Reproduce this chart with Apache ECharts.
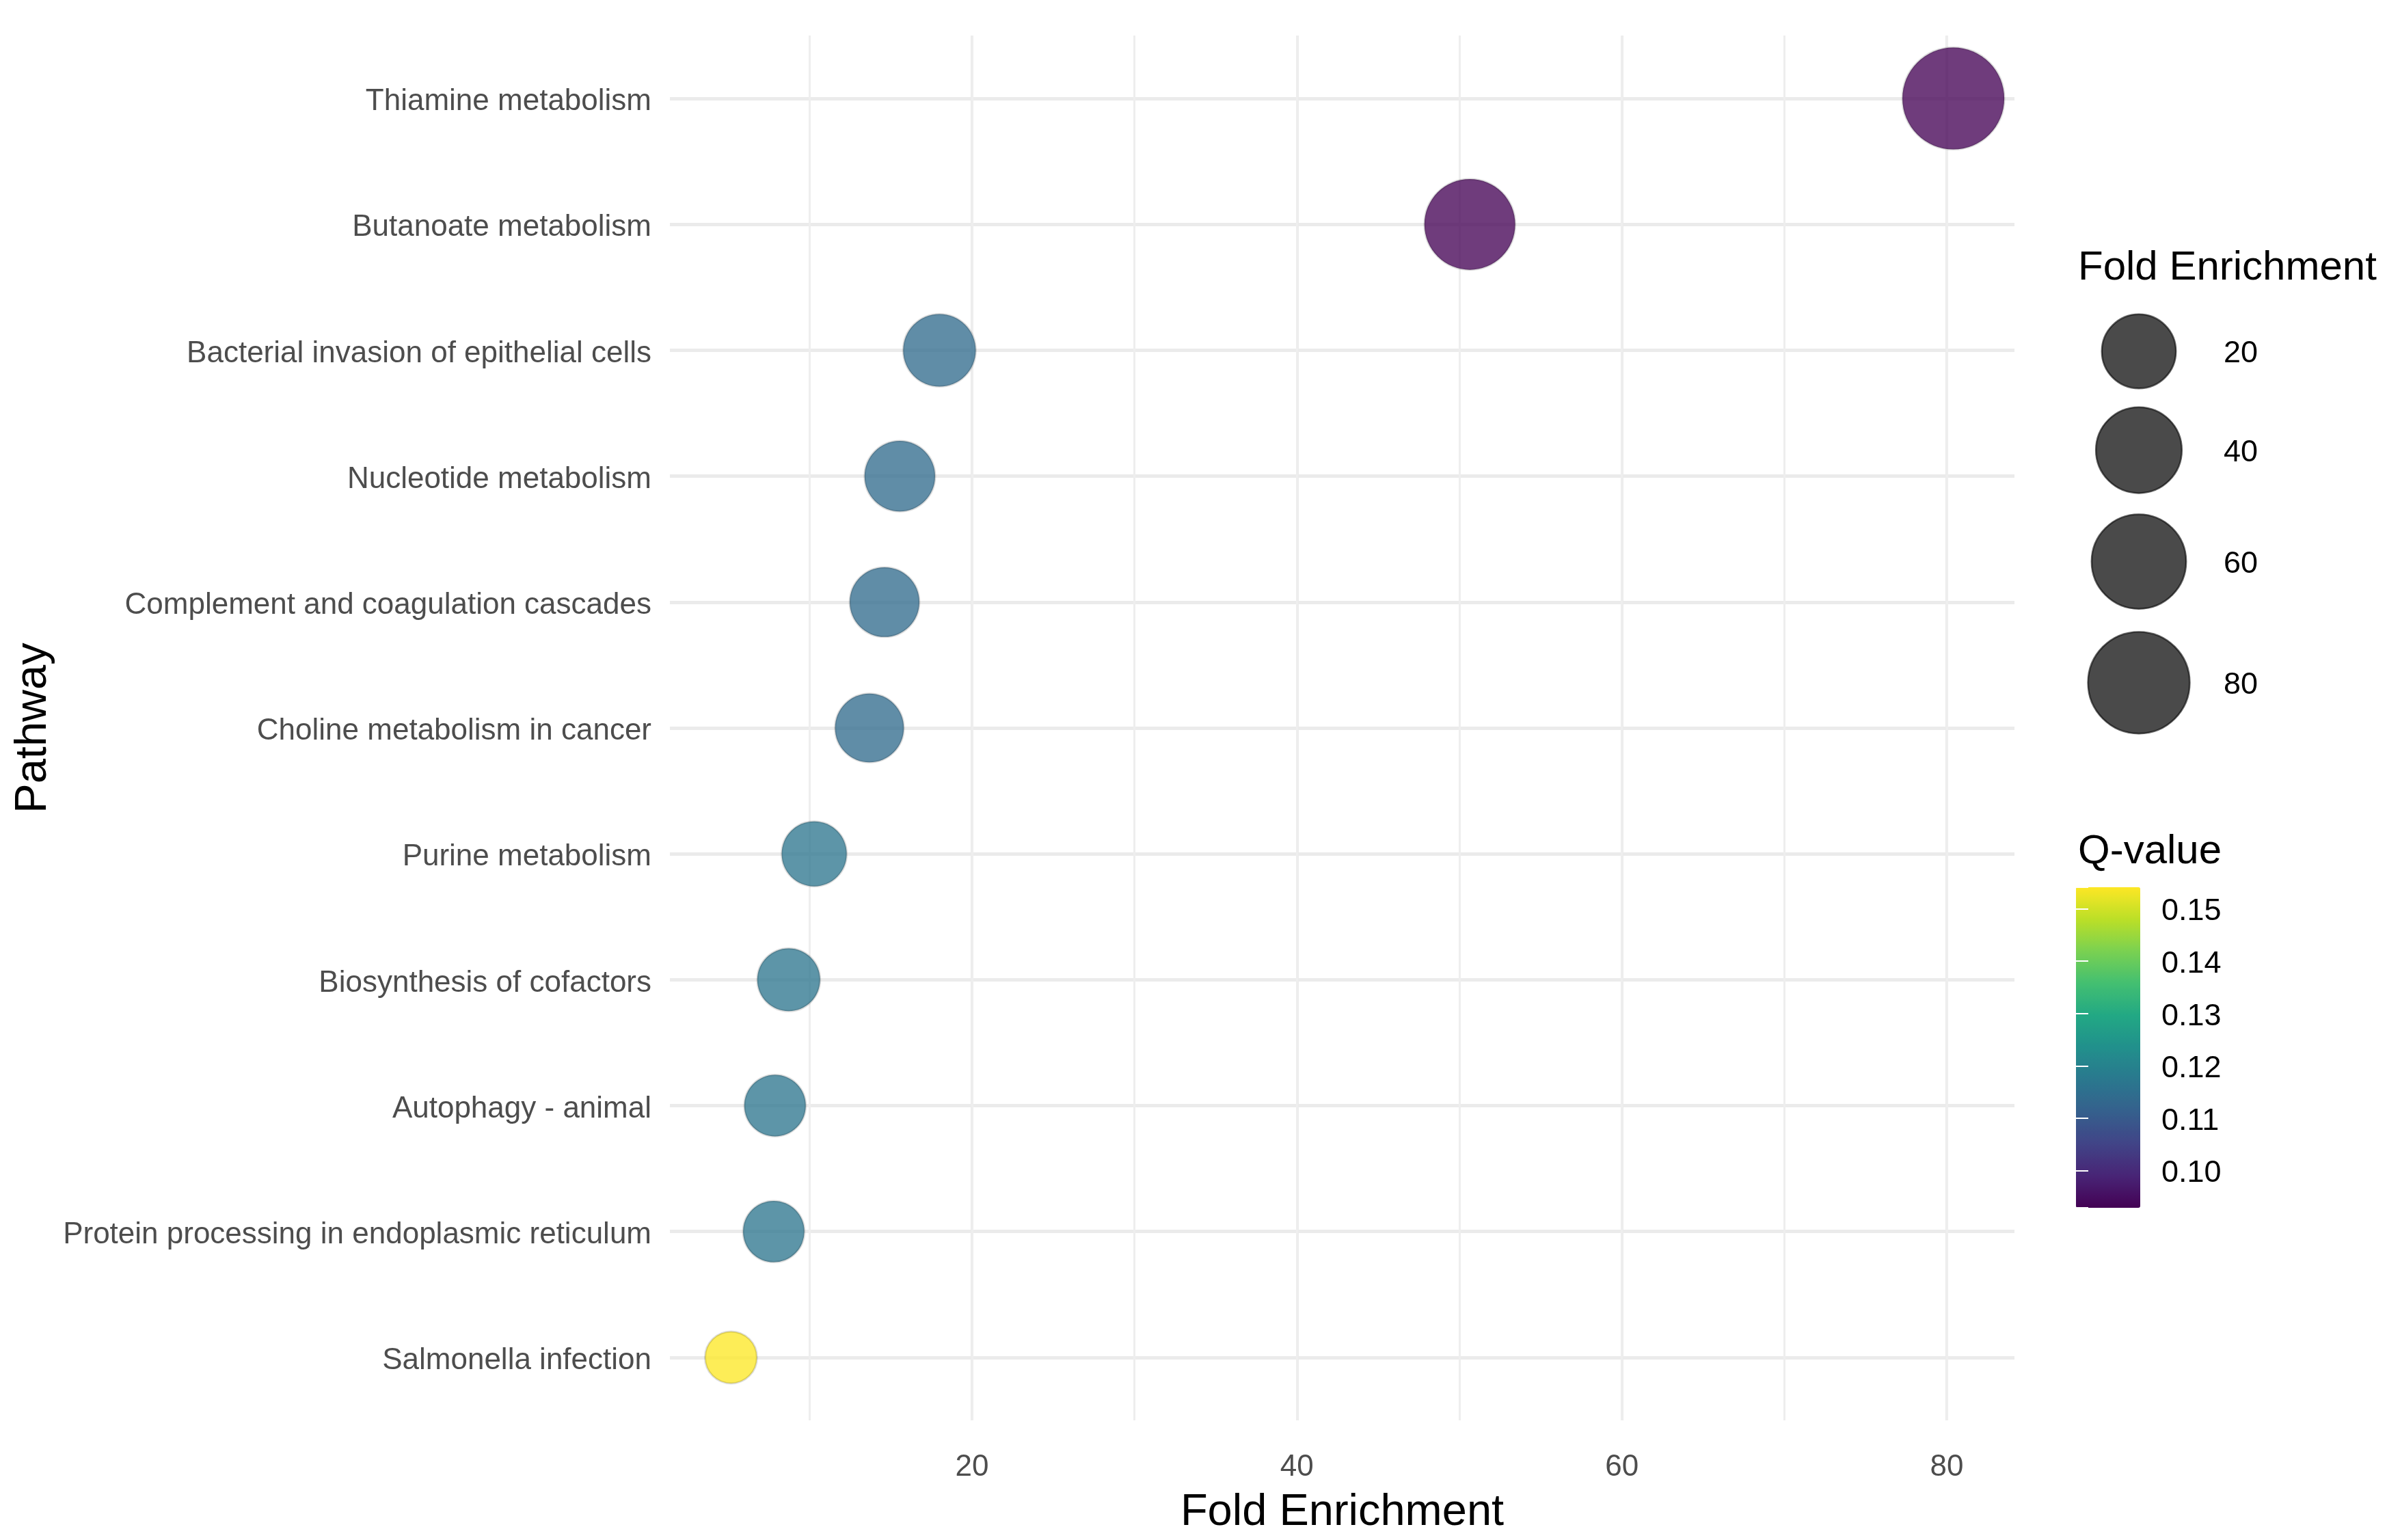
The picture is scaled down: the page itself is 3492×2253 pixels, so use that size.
<!DOCTYPE html>
<html><head><meta charset="utf-8">
<script src="https://cdn.jsdelivr.net/npm/echarts@6/dist/echarts.min.js"></script>
<style>html,body{margin:0;padding:0;background:#fff}#c{width:3492px;height:2253px}</style>
</head><body><div id="c"></div>
<script>
// ---- data ----
const pathways = ['Thiamine metabolism', 'Butanoate metabolism', 'Bacterial invasion of epithelial cells',
  'Nucleotide metabolism', 'Complement and coagulation cascades', 'Choline metabolism in cancer',
  'Purine metabolism', 'Biosynthesis of cofactors', 'Autophagy - animal',
  'Protein processing in endoplasmic reticulum', 'Salmonella infection'];
const foldEnrichment = [80.4, 50.64, 18.0, 15.56, 14.62, 13.69, 10.29, 8.72, 7.88, 7.80, 5.17];
const qValue = [0.0929, 0.0929, 0.1140, 0.1140, 0.1140, 0.1140, 0.1165, 0.1165, 0.1165, 0.1165, 0.1541];
const sizeBreaks = [20, 40, 60, 80];
const viridis = ['#440154', '#482576', '#414487', '#35608D', '#2A788E', '#21908C', '#22A884', '#43BF71', '#7AD151', '#BBDF27', '#FDE725'];

// ---- derived ----
const FONT = "'Liberation Sans', Arial, Helvetica, sans-serif";
const feMin = Math.min(...foldEnrichment), feMax = Math.max(...foldEnrichment);
const qMin = Math.min(...qValue), qMax = Math.max(...qValue);
const pad = 0.05 * (feMax - feMin);
const xMin = feMin - pad, xMax = feMax + pad;
function sizeOf(v) { return 76 + 73 * Math.sqrt(Math.max(0, (v - feMin) / (feMax - feMin))); }

// size legend layout (key height proportional to symbol size)
const keyK = 1.235;
const keyPos = []; let acc = 0;
sizeBreaks.forEach(v => { const h = keyK * sizeOf(v); keyPos.push(acc + h / 2); acc += h; });
const keyTotal = acc;
const keyTop = 514 - keyPos[0];

const chart = echarts.init(document.getElementById('c'), null, {renderer: 'canvas'});
const option = {
  animation: false,
  backgroundColor: '#ffffff',
  textStyle: {fontFamily: FONT},
  title: [
    {text: 'Fold Enrichment', left: 3040, top: 362, padding: 0,
     textStyle: {fontFamily: FONT, fontSize: 60, fontWeight: 'normal', color: '#000'}},
    {text: 'Q-value', left: 3040, top: 1216, padding: 0,
     textStyle: {fontFamily: FONT, fontSize: 60, fontWeight: 'normal', color: '#000'}}
  ],
  grid: [
    {left: 980, top: 52, width: 1967, height: 2026, containLabel: false, outerBoundsMode: 'none'},
    {left: 3029, top: keyTop, width: 200, height: keyTotal, containLabel: false, outerBoundsMode: 'none'},
    {left: 3037, top: 1298, width: 94, height: 469, containLabel: false, outerBoundsMode: 'none'}
  ],
  xAxis: [
    {type: 'value', gridIndex: 0, min: xMin, max: xMax, position: 'bottom',
     name: 'Fold Enrichment', nameLocation: 'middle', nameGap: 103,
     nameTextStyle: {fontFamily: FONT, fontSize: 65, color: '#000'},
     axisLine: {show: false}, axisTick: {show: false},
     axisLabel: {fontFamily: FONT, fontSize: 44, color: '#4D4D4D', margin: 47, showMinLabel: false, showMaxLabel: false},
     splitLine: {show: true, showMinLine: false, showMaxLine: false, lineStyle: {color: '#EBEBEB', width: 4}}},
    {type: 'value', gridIndex: 0, min: xMin, max: xMax, splitNumber: 8, position: 'bottom',
     axisLine: {show: false}, axisTick: {show: false}, axisLabel: {show: false},
     splitLine: {show: true, showMinLine: false, showMaxLine: false, lineStyle: {color: '#EEEEEE', width: 3}}},
    {type: 'value', gridIndex: 1, min: -1, max: 1, show: false},
    {type: 'value', gridIndex: 2, min: 0, max: 1, show: false}
  ],
  yAxis: [
    {type: 'category', gridIndex: 0, data: pathways, inverse: true,
     name: 'Pathway', nameLocation: 'middle', nameRotate: 90, nameGap: 898,
     nameTextStyle: {fontFamily: FONT, fontSize: 65, color: '#000'},
     axisLine: {show: false}, axisTick: {show: false},
     axisLabel: {fontFamily: FONT, fontSize: 44, color: '#4D4D4D', margin: 27, verticalAlign: 'top', lineHeight: 10, interval: 0},
     splitLine: {show: true, alignWithLabel: true, lineStyle: {color: '#EBEBEB', width: 5}}},
    {type: 'value', gridIndex: 1, min: 0, max: keyTotal, inverse: true, show: false},
    {type: 'value', gridIndex: 2, min: qMin, max: qMax, position: 'right', z: 10,
     axisLine: {show: false},
     axisTick: {show: true, inside: true, length: 18, lineStyle: {color: '#ffffff', width: 2}},
     axisLabel: {fontFamily: FONT, fontSize: 45, color: '#000', margin: 31, verticalAlign: 'top', lineHeight: 9,
       showMinLabel: false, showMaxLabel: false,
       formatter: v => { const r = Math.round(v * 100); return Math.abs(v * 100 - r) < 1e-6 ? (r / 100).toFixed(2) : ''; }},
     splitLine: {show: false}},
    {type: 'value', gridIndex: 2, min: qMin, max: qMax, position: 'left', z: 10,
     axisLine: {show: false},
     axisTick: {show: true, inside: true, length: 18, lineStyle: {color: '#ffffff', width: 2}},
     axisLabel: {show: false}, splitLine: {show: false}}
  ],
  visualMap: {
    type: 'continuous', seriesIndex: 0, dimension: 2, min: qMin, max: qMax,
    inRange: {color: viridis}, orient: 'vertical', left: 3037, top: 1298,
    itemWidth: 94, itemHeight: 469, padding: 0, calculable: false, hoverLink: false,
    text: null, z: 1
  },
  series: [
    {type: 'scatter', xAxisIndex: 0, yAxisIndex: 0, clip: false, z: 3,
     data: pathways.map((p, i) => [foldEnrichment[i], p, qValue[i]]),
     symbol: 'circle', symbolSize: v => sizeOf(v[0]),
     itemStyle: {opacity: 0.77, borderColor: 'rgba(0,0,0,0.18)', borderWidth: 3},
     emphasis: {disabled: true}},
    {type: 'scatter', xAxisIndex: 2, yAxisIndex: 1, clip: false,
     data: sizeBreaks.map((v, i) => [0, keyPos[i], v]),
     symbol: 'circle', symbolSize: v => sizeOf(v[2]),
     itemStyle: {color: 'rgba(0,0,0,0.71)', opacity: 1, borderColor: 'rgba(0,0,0,0.6)', borderWidth: 2.5},
     label: {show: true, position: 'inside', align: 'left', offset: [124, 4],
       formatter: p => String(p.value[2]), fontFamily: FONT, fontSize: 45, color: '#000000'},
     emphasis: {disabled: true}},
    {type: 'scatter', xAxisIndex: 3, yAxisIndex: 2, data: []}
  ]
};
chart.setOption(option);
</script>
</body></html>
